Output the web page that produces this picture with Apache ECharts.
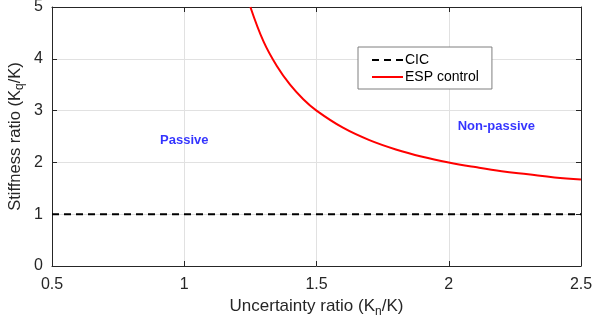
<!DOCTYPE html>
<html>
<head>
<meta charset="utf-8">
<script src="https://cdn.jsdelivr.net/npm/echarts@6/dist/echarts.min.js"></script>
<style>
  html, body { margin: 0; padding: 0; background: #fff; }
  #chart { width: 592px; height: 324px; }
</style>
</head>
<body>
<div id="chart"></div>
<script>
// Uncertainty ratio (Kn/K) samples for the ESP control boundary
const espX = [1.25, 1.3, 1.35, 1.4, 1.45, 1.5, 1.6, 1.7, 1.8, 1.9, 2.0, 2.1, 2.2, 2.3, 2.4, 2.5];
// Stiffness ratio (Kq/K) along the ESP control boundary
const espY = [5.0, 4.33, 3.86, 3.5, 3.22, 3.0, 2.67, 2.43, 2.25, 2.11, 2.0, 1.91, 1.83, 1.77, 1.71, 1.67];
// CIC boundary: constant stiffness ratio
const cicX = [0.5, 2.5];
const cicY = [1, 1];
// Axis ranges and region labels
const xTicks = [0.5, 1, 1.5, 2, 2.5];
const yTicks = [0, 1, 2, 3, 4, 5];
const regionLabels = [
  { name: 'Passive', x: 1.0, y: 2.42 },
  { name: 'Non-passive', x: 2.18, y: 2.7 }
];

const axisColor = '#262626';
const font = '"Liberation Sans", Arial, Helvetica, sans-serif';

const chart = echarts.init(document.getElementById('chart'));

const baseX = {
  type: 'value', min: xTicks[0], max: xTicks[xTicks.length - 1], interval: 0.5,
  axisLine: { show: true, onZero: false, lineStyle: { color: axisColor, width: 1 } },
  axisTick: { show: true, inside: true, length: 5, lineStyle: { color: axisColor } }
};
const baseY = {
  type: 'value', min: yTicks[0], max: yTicks[yTicks.length - 1], interval: 1,
  axisLine: { show: true, onZero: false, lineStyle: { color: axisColor, width: 1 } },
  axisTick: { show: true, inside: true, length: 5, lineStyle: { color: axisColor } }
};

chart.setOption({
  animation: false,
  backgroundColor: '#fff',
  grid: { left: 52, right: 11, top: 7, bottom: 58, containLabel: false, outerBoundsMode: 'none' },
  xAxis: [
    Object.assign({}, baseX, {
      position: 'bottom',
      name: '{t|Uncertainty ratio (K}{s|n}{t|/K)}',
      nameLocation: 'middle', nameGap: 29,
      nameTextStyle: {
        rich: {
          t: { fontFamily: font, fontSize: 17, color: axisColor },
          s: { fontFamily: font, fontSize: 12, color: axisColor, padding: [10, 0, 0, 0] }
        }
      },
      axisLabel: {
        fontFamily: font, fontSize: 16, color: axisColor, margin: 11,
        formatter: v => String(v)
      },
      splitLine: { show: true, lineStyle: { color: '#e1e1e1', width: 1 } }
    }),
    Object.assign({}, baseX, {
      position: 'top', axisLabel: { show: false }, splitLine: { show: false }
    })
  ],
  yAxis: [
    Object.assign({}, baseY, {
      position: 'left',
      name: '{t|Stiffness ratio (K}{s|q}{t|/K)}',
      nameLocation: 'middle', nameGap: 26, nameRotate: 90, nameMoveOverlap: false,
      nameTextStyle: {
        rich: {
          t: { fontFamily: font, fontSize: 16.5, color: axisColor },
          s: { fontFamily: font, fontSize: 12, color: axisColor, padding: [10, 0, 0, 0] }
        }
      },
      axisLabel: { fontFamily: font, fontSize: 16, color: axisColor, margin: 9 },
      splitLine: { show: true, lineStyle: { color: '#e1e1e1', width: 1 } }
    }),
    Object.assign({}, baseY, {
      position: 'right', axisLabel: { show: false }, splitLine: { show: false }
    })
  ],
  legend: {
    left: 358, top: 47,
    orient: 'vertical', itemGap: 3, itemWidth: 31, itemHeight: 14,
    padding: [6, 13, 5, 13],
    backgroundColor: '#fff', borderColor: '#7f7f7f', borderWidth: 1, borderRadius: 0,
    textStyle: { fontFamily: font, fontSize: 14, color: '#000', padding: [0, 0, 0, -3] },
    itemStyle: { opacity: 0 },
    data: ['CIC', 'ESP control']
  },
  series: [
    {
      name: 'CIC', type: 'line', symbol: 'none',
      data: cicX.map((x, i) => [x, cicY[i]]),
      lineStyle: { color: '#000', width: 2, type: [7, 5] },
      itemStyle: { color: '#000' },
      z: 3
    },
    {
      name: 'ESP control', type: 'line', symbol: 'none', smooth: 0.4,
      data: espX.map((x, i) => [x, espY[i]]),
      lineStyle: { color: '#ff0000', width: 2 },
      itemStyle: { color: '#ff0000' },
      z: 3
    },
    {
      type: 'scatter', symbolSize: 0, silent: true,
      data: regionLabels.map(r => ({ name: r.name, value: [r.x, r.y] })),
      label: {
        show: true, position: 'inside', formatter: p => p.name,
        fontFamily: font, fontSize: 13, fontWeight: 'bold', color: '#0000ff'
      }
    }
  ]
});
</script>
</body>
</html>
